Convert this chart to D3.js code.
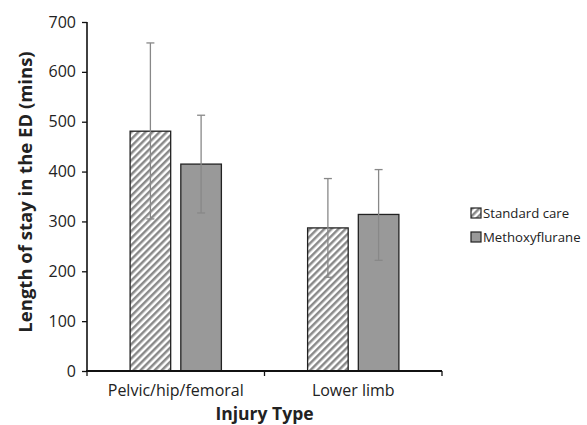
<!DOCTYPE html>
<html><head><meta charset="utf-8">
<script src="https://cdn.jsdelivr.net/npm/d3@7"></script>
<style>body{margin:0;background:#fff}svg{display:block}text{font-family:"Open Sans",sans-serif;fill:#222}</style>
</head><body><svg id="c" width="587" height="425"></svg>
<script>
const categories = ["Pelvic/hip/femoral", "Lower limb"];
const seriesNames = ["Standard care", "Methoxyflurane"];
const standardCare = [481, 287];
const methoxyflurane = [415, 314];
const standardErrLow = [305, 188];
const standardErrHigh = [658, 386];
const methoxyErrLow = [317, 222];
const methoxyErrHigh = [513, 404];
const yTicks = [0, 100, 200, 300, 400, 500, 600, 700];

const svg = d3.select("#c");
const defs = svg.append("defs");
const pat = defs.append("pattern").attr("id","hatch").attr("patternUnits","userSpaceOnUse")
  .attr("width",5).attr("height",5).attr("patternTransform","rotate(45)");
pat.append("rect").attr("width",5).attr("height",5).attr("fill","#fff");
pat.append("line").attr("x1",1.25).attr("y1",0).attr("x2",1.25).attr("y2",5).attr("stroke","#8a8a8a").attr("stroke-width",2.5);

const pLeft=87, pRight=442, pTop=22, pBottom=371;
const x = d3.scaleBand().domain(categories).range([pLeft,pRight]);
const y = d3.scaleLinear().domain([0,700]).range([pBottom,pTop]);
const xs = d3.scaleBand().domain(seriesNames).range([0,x.bandwidth()]).paddingInner(0.2).paddingOuter(0.85);

const data = categories.map((c,i)=>[
  {cat:c, s:seriesNames[0], v:standardCare[i], lo:standardErrLow[i], hi:standardErrHigh[i]},
  {cat:c, s:seriesNames[1], v:methoxyflurane[i], lo:methoxyErrLow[i], hi:methoxyErrHigh[i]}
]).flat();

svg.selectAll("rect.bar").data(data).enter().append("rect").attr("class","bar")
  .attr("x",d=>x(d.cat)+xs(d.s)).attr("width",xs.bandwidth())
  .attr("y",d=>y(d.v)).attr("height",d=>y(0)-y(d.v))
  .attr("fill",d=>d.s===seriesNames[0]?"url(#hatch)":"#999")
  .attr("stroke","#222").attr("stroke-width",1.3);

const eg = svg.selectAll("g.err").data(data).enter().append("g").attr("stroke","#888").attr("stroke-width",1.3);
eg.append("line").attr("x1",d=>x(d.cat)+xs(d.s)+xs.bandwidth()/2).attr("x2",d=>x(d.cat)+xs(d.s)+xs.bandwidth()/2)
  .attr("y1",d=>y(d.lo)).attr("y2",d=>y(d.hi));
["lo","hi"].forEach(k=>{
  eg.append("line").attr("x1",d=>x(d.cat)+xs(d.s)+xs.bandwidth()/2-4).attr("x2",d=>x(d.cat)+xs(d.s)+xs.bandwidth()/2+4)
    .attr("y1",d=>y(d[k])).attr("y2",d=>y(d[k]));
});

// y axis
const ya = svg.append("g").attr("transform",`translate(${pLeft},0)`)
  .call(d3.axisLeft(y).tickValues(yTicks).tickSize(5).tickPadding(6));
ya.select(".domain").attr("stroke","#111").attr("stroke-width",1.6).attr("d",`M0,${pTop}V${pBottom}`);
ya.selectAll(".tick line").attr("stroke","#111").attr("stroke-width",1.3).attr("x1",-5).attr("x2",0);
ya.selectAll(".tick text").attr("font-size",16).attr("font-family","Open Sans, sans-serif").attr("fill","#222");

// x axis
const xa = svg.append("g").attr("transform",`translate(0,${pBottom})`);
xa.append("line").attr("x1",pLeft-1).attr("x2",pRight).attr("y1",0).attr("y2",0).attr("stroke","#111").attr("stroke-width",1.8);
[pLeft, x(categories[1]), pRight].forEach(px=>{
  xa.append("line").attr("x1",px).attr("x2",px).attr("y1",0).attr("y2",5).attr("stroke","#111").attr("stroke-width",1.3);
});
xa.selectAll("text.cat").data(categories).enter().append("text").attr("class","cat")
  .attr("x",d=>x(d)+x.bandwidth()/2).attr("y",25).attr("text-anchor","middle").attr("font-size",16).text(d=>d);

svg.append("text").attr("x",x(categories[1])).attr("y",420).attr("text-anchor","middle")
  .attr("font-size",17.5).attr("font-weight","bold").text("Injury Type");
svg.append("text").attr("transform",`translate(32,192) rotate(-90)`).attr("text-anchor","middle")
  .attr("font-size",18.5).attr("font-weight","bold").text("Length of stay in the ED (mins)");

// legend
const lg = svg.selectAll("g.leg").data(seriesNames).enter().append("g")
  .attr("transform",(d,i)=>`translate(471,${208+i*24})`);
lg.append("rect").attr("width",10).attr("height",10)
  .attr("fill",(d,i)=>i===0?"url(#hatch)":"#999").attr("stroke","#222").attr("stroke-width",1.2);
lg.append("text").attr("x",12).attr("y",9.5).attr("font-size",13.2).text(d=>d);
</script></body></html>
